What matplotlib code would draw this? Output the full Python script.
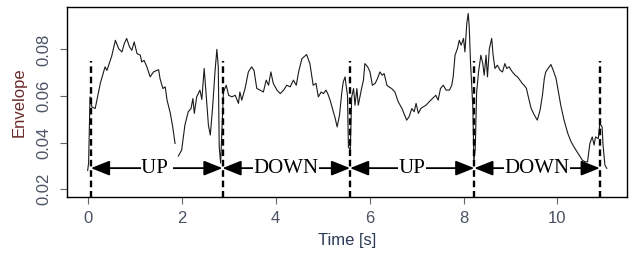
import numpy as np
import matplotlib
matplotlib.use("Agg")
import matplotlib.pyplot as plt

# envelope trace (NaN = gap in the curve)
time = [0.00, 0.02, 0.05, 0.09, 0.16, 0.27, 0.37, 0.41, 0.51, 0.59, 0.66, 0.73, 0.78, 0.83,
        0.89, 0.94, 0.99, 1.05, 1.12, 1.15, 1.20, 1.26, 1.33, 1.40, 1.51, 1.54, 1.60, 1.65,
        1.69, 1.76, 1.81, 1.86, 1.89, 1.93, 2.00, 2.07, 2.14, 2.20, 2.24, 2.27, 2.32, 2.39,
        2.43, 2.48, 2.52, 2.57, 2.61, 2.66, 2.71, 2.75, 2.78, 2.80, 2.83, 2.89, 2.95, 3.00,
        3.07, 3.14, 3.21, 3.24, 3.28, 3.35, 3.42, 3.49, 3.54, 3.60, 3.67, 3.74, 3.80, 3.85,
        3.90, 3.95, 4.03, 4.10, 4.17, 4.24, 4.31, 4.38, 4.44, 4.49, 4.56, 4.66, 4.73, 4.80,
        4.86, 4.91, 4.97, 5.02, 5.07, 5.11, 5.16, 5.21, 5.27, 5.31, 5.36, 5.41, 5.44, 5.48,
        5.50, 5.53, 5.55, 5.59, 5.62, 5.66, 5.69, 5.73, 5.76, 5.83, 5.87, 5.90, 5.96, 6.01,
        6.06, 6.12, 6.17, 6.22, 6.27, 6.31, 6.37, 6.41, 6.47, 6.54, 6.61, 6.69, 6.79, 6.84,
        6.90, 6.95, 6.99, 7.04, 7.09, 7.14, 7.20, 7.27, 7.34, 7.41, 7.46, 7.51, 7.57, 7.63,
        7.70, 7.75, 7.78, 7.82, 7.87, 7.91, 7.95, 8.00, 8.03, 8.07, 8.10, 8.12, 8.15, 8.20,
        8.22, 8.25, 8.28, 8.32, 8.37, 8.41, 8.44, 8.48, 8.51, 8.55, 8.60, 8.63, 8.67, 8.72,
        8.78, 8.83, 8.88, 8.92, 8.97, 9.04, 9.10, 9.15, 9.20, 9.25, 9.29, 9.34, 9.38, 9.44,
        9.51, 9.57, 9.63, 9.68, 9.72, 9.75, 9.80, 9.86, 9.91, 9.97, 10.02, 10.07, 10.14, 10.22,
        10.29, 10.37, 10.46, 10.53, 10.59, 10.64, 10.69, 10.74, 10.78, 10.81, 10.87, 10.90,
        10.95, 10.97, 11.01, 11.05]
envelope = [0.0280, 0.0312, 0.0596, 0.0553, 0.0546, 0.0655, 0.0725, 0.0710, 0.0770, 0.0839,
            0.0803, 0.0789, 0.0825, 0.0847, 0.0811, 0.0796, 0.0832, 0.0782, 0.0775, 0.0746,
            0.0753, 0.0725, 0.0682, 0.0703, 0.0713, 0.0675, 0.0632, 0.0639, 0.0582, 0.0525,
            0.0467, 0.0396, np.nan, 0.0342, 0.0367, 0.0475, 0.0532, 0.0546, 0.0589, 0.0525,
            0.0596, 0.0625, 0.0585, 0.0718, 0.0610, 0.0475, 0.0432, 0.0553, 0.0703, 0.0800,
            0.0725, 0.0382, 0.0312, 0.0617, 0.0646, 0.0603, 0.0596, 0.0603, 0.0568, 0.0617,
            0.0582, 0.0632, 0.0703, 0.0725, 0.0710, 0.0632, 0.0625, 0.0617, 0.0668, 0.0646,
            0.0703, 0.0654, 0.0625, 0.0610, 0.0625, 0.0646, 0.0639, 0.0668, 0.0646, 0.0703,
            0.0760, 0.0778, 0.0739, 0.0646, 0.0654, 0.0596, 0.0617, 0.0610, 0.0625, 0.0610,
            0.0582, 0.0546, 0.0503, 0.0467, 0.0517, 0.0617, 0.0660, 0.0682, 0.0646, 0.0603,
            0.0380, 0.0370, 0.0596, 0.0632, 0.0560, 0.0632, 0.0560, 0.0632, 0.0668, 0.0739,
            0.0725, 0.0703, 0.0646, 0.0654, 0.0675, 0.0703, 0.0689, 0.0696, 0.0646, 0.0639,
            0.0632, 0.0617, 0.0575, 0.0546, 0.0496, 0.0510, 0.0546, 0.0532, 0.0568, 0.0525,
            0.0546, 0.0553, 0.0560, 0.0575, 0.0589, 0.0603, 0.0582, 0.0632, 0.0646, 0.0625,
            0.0625, 0.0646, 0.0682, 0.0775, 0.0803, 0.0839, 0.0818, 0.0847, 0.0789, 0.0911,
            0.0954, 0.0904, 0.0739, 0.0546, 0.0317, 0.0375, 0.0617, 0.0703, 0.0775, 0.0739,
            0.0689, 0.0775, 0.0682, 0.0803, 0.0847, 0.0775, 0.0718, 0.0732, 0.0710, 0.0703,
            0.0739, 0.0718, 0.0725, 0.0703, 0.0689, 0.0682, 0.0668, 0.0654, 0.0646, 0.0632,
            0.0596, 0.0546, 0.0517, 0.0496, 0.0539, 0.0603, 0.0675, 0.0703, 0.0718, 0.0735,
            0.0710, 0.0675, 0.0617, 0.0560, 0.0496, 0.0439, 0.0403, 0.0375, 0.0346, 0.0324,
            0.0317, 0.0317, 0.0396, 0.0424, 0.0389, 0.0424, 0.0417, 0.0482, 0.0467, 0.0389,
            0.0303, 0.0289]

# phase boundaries (dashed lines) and labels
bounds = [0.07, 2.87, 5.585, 8.23, 10.90]
phase_labels = ['UP ', 'DOWN', 'UP', 'DOWN']
arrow_y = 0.029
dash_top = 0.075

fig = plt.figure(figsize=(6.29, 2.64), dpi=100)
ax = fig.add_axes([67/629, 67/264, 560/629, 190/264])

ax.plot(time, envelope, color='#1a1a1a', lw=0.8, zorder=2)
ax.vlines(bounds, 0.012, dash_top, colors='black', lw=1.7,
          linestyles=(0, (2.8, 1.6)), zorder=3)

for i, lab in enumerate(phase_labels):
    x0, x1 = bounds[i], bounds[i + 1]
    ax.annotate('', xy=(x1, arrow_y), xytext=(x0, arrow_y),
                arrowprops=dict(arrowstyle='<|-|>,head_length=0.95,head_width=0.38',
                                color='black', lw=1.3, shrinkA=0, shrinkB=0,
                                mutation_scale=12),
                zorder=4)
    ax.text((x0 + x1) / 2, arrow_y, lab, ha='center', va='center',
            family='Liberation Serif', fontsize=15, color='black', zorder=5,
            bbox=dict(facecolor='white', edgecolor='none', pad=0.3))

ax.set_xlim(-0.44, 11.48)
ax.set_ylim(0.0166, 0.0982)
ax.set_xticks([0, 2, 4, 6, 8, 10])
ax.set_yticks([0.02, 0.04, 0.06, 0.08])
ax.set_yticklabels(['0.02', '0.04', '0.06', '0.08'])

tick_color = '#4a5364'
ax.tick_params(length=5, width=0.8, color='#666666', labelcolor=tick_color,
               labelsize=12)
ax.tick_params(axis='x', pad=5)
ax.tick_params(axis='y', pad=6)
for lab in ax.get_yticklabels():
    lab.set_rotation(90)
    lab.set_va('center')
for lab in ax.get_xticklabels() + ax.get_yticklabels():
    lab.set_family('Liberation Sans')

for s in ax.spines.values():
    s.set_linewidth(1.0)
    s.set_color('black')

ax.set_xlabel('Time [s]', family='Liberation Sans', fontsize=12, color='#2b3a55', va='top')
ax.xaxis.set_label_coords(0.5, -0.19)
ax.set_ylabel('Envelope', family='Liberation Sans', fontsize=12, color='#6a2a2a')
ax.yaxis.set_label_coords(-0.072, 0.5)

fig.savefig('out.png', dpi=100)
